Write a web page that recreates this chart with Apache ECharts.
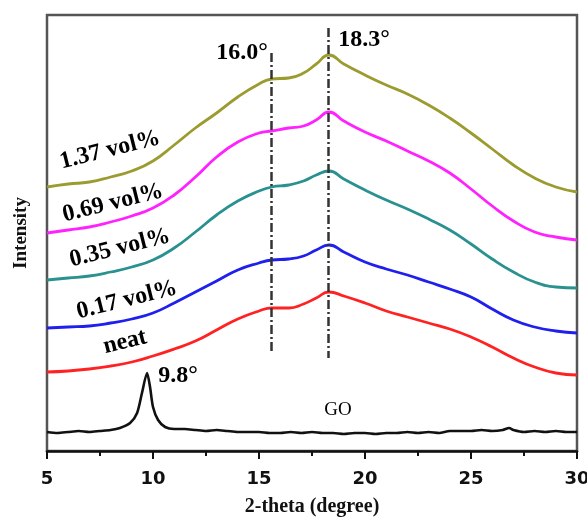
<!DOCTYPE html>
<html>
<head>
<meta charset="utf-8">
<script src="https://cdn.jsdelivr.net/npm/echarts@6/dist/echarts.min.js"></script>
<style>html,body{margin:0;padding:0;background:#fff;overflow:hidden}#c{width:587px;height:518px}</style>
</head>
<body>
<div id="c"></div>
<script>
// 2-theta grid (degrees) shared by the composite curves
var twoTheta = [5,6,7,8,9,10,11,12,13,14,15,15.6,16.4,17.1,17.7,18.3,19,20,21,22,23,24,25,26,27,28,29,30];
var vol137 = [264,267,269,274,280,290,306,323,338,354,367,372,373,378,387,396,387,376,366,357,346,333,318,302,286,273,264,259];
var vol069 = [218,221,224,229,235,243,256,274,294,309,318,320,323,325,331,339,330,319,310,300,290,278,262,245,230,219,214,211];
var vol035 = [171,173,175,179,184,191,203,219,236,250,260,264,266,270,276,280,272,261,251,242,232,221,207,192,179,169,164,163];
var vol017 = [123,124,125,128,132,138,148,159,170,181,188,191,192,195,201,206,199,189,182,176,169,162,154,142,131,124,120,118];
var neat   = [79,80,82,85,89,95,102,110,121,132,140,143,143,147,153,159,155,148,140,134,128,122,114,104,93,84,78,76];
// GO pattern
var goTheta = [5,5.5,6,6.5,7,7.5,8,8.44,8.92,9.25,9.48,9.72,9.86,10.0,10.24,10.57,11,11.5,12,12.5,13,13.5,14,14.5,15,15.5,16,16.5,17,17.5,18,18.5,19,19.5,20,20.5,21,21.5,22,22.5,23,23.5,24,24.5,25,25.5,26,26.5,26.8,27,27.5,28,28.5,29,29.5,30];
var goVals  = [19,18,19,20,19,20,21,23,28,38,58,78,64,44,31,24,22,22,21,20,21,20,19,19,19,18,18,19,18,19,18,18,17,18,18,17,18,18,19,18,19,18,20,20,20,21,20,21,23,21,19,20,19,20,19,19];
// peak marker lines
var peakLines = [[15.6, 398, 99], [18.25, 423, 93]];
// annotation texts and anchors
var labelTexts = ['1.37 vol%','0.69 vol%','0.35 vol%','0.17 vol%','neat','9.8°','16.0°','18.3°','GO'];
var labelAnchors = [[7.97,301],[8.11,248],[8.44,203],[8.77,151],[8.68,109],[11.18,75],[14.2,398],[19.95,411],[18.73,41]];
var xTicks = [5,10,15,20,25,30];

function pairs(xs, ys){ return xs.map(function(x,i){ return [x, ys[i]]; }); }

var curves = [
  {name:'1.37 vol%', d:vol137, c:'#9b9b2f'},
  {name:'0.69 vol%', d:vol069, c:'#ff22ff'},
  {name:'0.35 vol%', d:vol035, c:'#2a9191'},
  {name:'0.17 vol%', d:vol017, c:'#1f1fee'},
  {name:'neat', d:neat, c:'#ff2222'}
];

var series = curves.map(function(cv){
  return {type:'line', name:cv.name, data:pairs(twoTheta, cv.d), smooth:0.5, showSymbol:false,
    lineStyle:{color:cv.c, width:2.8}, silent:true};
});
series.push({type:'line', name:'GO', data:pairs(goTheta, goVals), smooth:0.25, showSymbol:false,
  lineStyle:{color:'#111', width:2.6}, silent:true,
  markLine:{symbol:'none', silent:true, label:{show:false},
    lineStyle:{color:'#333', width:2.5, type:[9,3,2,3]},
    data: peakLines.map(function(p){ return [{coord:[p[0],p[1]]},{coord:[p[0],p[2]]}]; })}
});
var rot = [14,14,14,14,14,0,0,0,0];
series.push({type:'scatter', symbolSize:0, silent:true, itemStyle:{color:'#000', opacity:1},
  data: labelAnchors.map(function(a,i){
    var isGO = labelTexts[i]==='GO';
    return {value:a, label:{show:true, position:'inside', formatter:labelTexts[i], rotate:rot[i],
      fontFamily:'Liberation Serif', fontWeight: isGO ? 'normal':'bold', opacity:1,
      fontSize: isGO ? 19 : 24, color:'#000', textBorderWidth:0, textShadowBlur:0}};
  })
});

var chart = echarts.init(document.getElementById('c'), null, {renderer:'canvas'});
chart.setOption({
  animation:false,
  backgroundColor:'#fff',
  grid:{left:47, right:10, top:15, bottom:67, show:true, borderColor:'#555', borderWidth:2.5,
    containLabel:false, outerBoundsMode:'none'},
  xAxis:{type:'value', min:5, max:30, interval:5,
    name:'2-theta (degree)', nameLocation:'middle', nameGap:46,
    nameTextStyle:{fontFamily:'Liberation Serif', fontWeight:'bold', fontSize:20, color:'#111'},
    axisLine:{show:true, lineStyle:{color:'#111', width:2.5}},
    axisTick:{show:true, inside:false, length:8, lineStyle:{color:'#111', width:2}},
    minorTick:{show:true, splitNumber:2, length:5, lineStyle:{color:'#111', width:2}},
    splitLine:{show:false},
    axisLabel:{margin:19, fontFamily:'DejaVu Sans', fontWeight:'bold', fontSize:18, color:'#111',
      formatter:function(v){ return xTicks.indexOf(v)>=0 ? String(v) : ''; }}
  },
  yAxis:{type:'value', min:0, max:436,
    name:'Intensity', nameLocation:'middle', nameGap:16,
    nameTextStyle:{fontFamily:'Liberation Serif', fontWeight:'bold', fontSize:19, color:'#111'},
    axisLine:{show:false}, axisTick:{show:false}, axisLabel:{show:false}, splitLine:{show:false}
  },
  series:series
});
</script>
</body>
</html>
